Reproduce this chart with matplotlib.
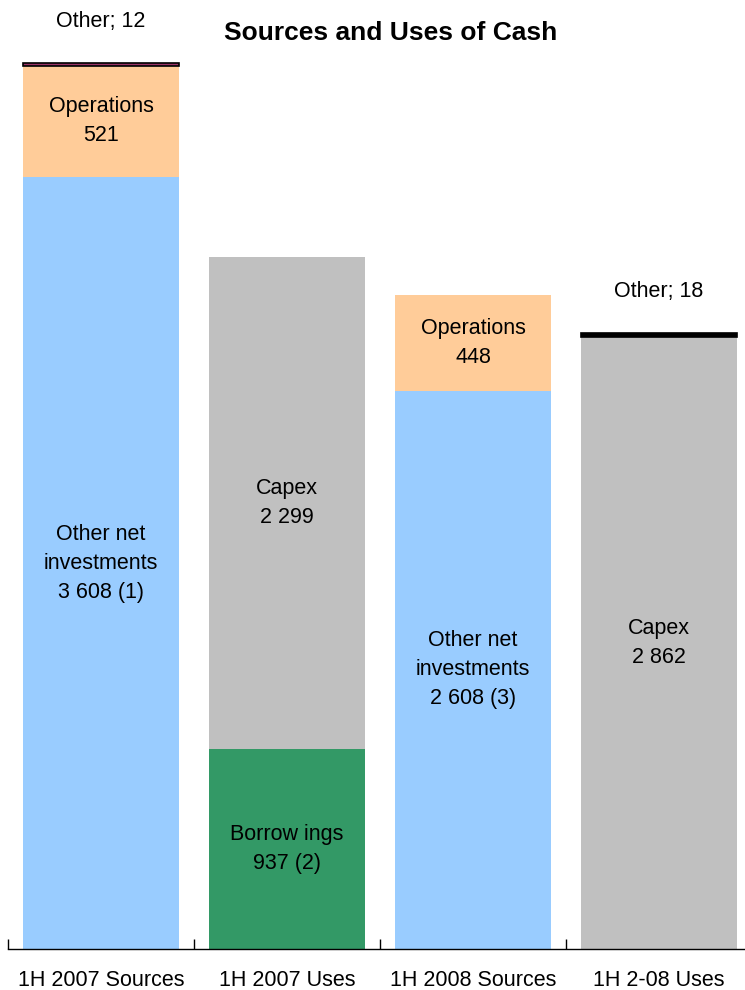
import matplotlib
matplotlib.use("Agg")
import matplotlib.pyplot as plt
import numpy as np

plt.rcParams['font.family'] = ['Liberation Sans', 'DejaVu Sans']

categories = ["1H 2007 Sources", "1H 2007 Uses", "1H 2008 Sources", "1H 2-08 Uses"]

# stacked segments, bottom to top: (value, colour, label text)
stacks = [
    [(3608, "#99CCFF", "Other net\ninvestments\n3 608 (1)"),
     (521, "#FFCC99", "Operations\n521"),
     (12, "#993366", None)],
    [(937, "#339966", "Borrow ings\n937 (2)"),
     (2299, "#C0C0C0", "Capex\n2 299")],
    [(2608, "#99CCFF", "Other net\ninvestments\n2 608 (3)"),
     (448, "#FFCC99", "Operations\n448")],
    [(2862, "#C0C0C0", "Capex\n2 862"),
     (18, "#000000", None)],
]
other_labels = {0: "Other; 12", 3: "Other; 18"}

fs = 15.5

fig = plt.figure(figsize=(7.45, 9.9), dpi=100)
ax = fig.add_axes([8 / 745, 41 / 990, 744 / 745, 886 / 990])

x = np.arange(len(categories))
width = 0.844
for i, segs in enumerate(stacks):
    bottom = 0
    for val, col, lab in segs:
        if lab is None:
            ax.bar(x[i], val, width, bottom=bottom, color=col,
                   edgecolor="black", linewidth=1.2, clip_on=False)
        else:
            ax.bar(x[i], val, width, bottom=bottom, color=col, linewidth=0)
            ax.text(x[i], bottom + val / 2, lab, ha="center", va="center",
                    fontsize=fs, linespacing=1.5)
        bottom += val
    if i in other_labels:
        ax.annotate(other_labels[i], (x[i], bottom), xytext=(0, 30),
                    textcoords="offset points", ha="center", va="center",
                    fontsize=fs, annotation_clip=False)

ax.set_xlim(-0.5, len(categories) - 0.5)
ax.set_ylim(0, 4141)
for s in ["left", "right", "top"]:
    ax.spines[s].set_visible(False)
ax.spines["bottom"].set_linewidth(1.0)
ax.set_yticks([])
ax.set_xticks(x)
ax.set_xticklabels(categories, fontsize=fs)
ax.tick_params(axis="x", which="major", length=0, pad=15)
ax.set_xticks(np.arange(len(categories)) - 0.5, minor=True)
ax.tick_params(axis="x", which="minor", direction="in", length=7, width=1)

fig.text(391 / 745, 1 - 33 / 990, "Sources and Uses of Cash", ha="center",
         va="center", fontsize=19, fontweight="bold")

fig.savefig("out.png", dpi=100)
